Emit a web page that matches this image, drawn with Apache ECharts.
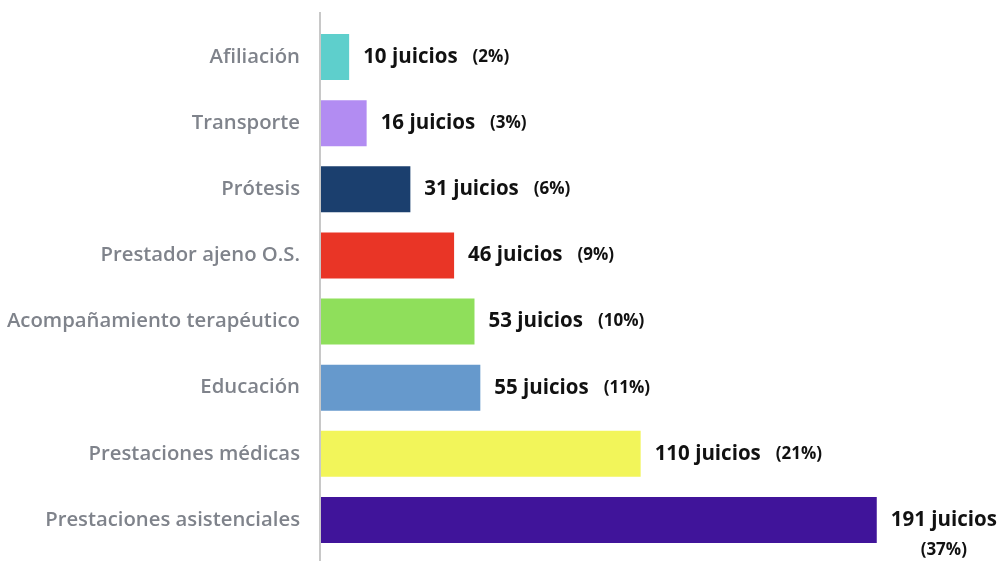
<!DOCTYPE html>
<html>
<head>
<meta charset="utf-8">
<script src="https://cdn.jsdelivr.net/npm/echarts@6/dist/echarts.min.js"></script>
<style>
html,body{margin:0;padding:0;background:#fff;}
#main{width:1001px;height:561px;}
</style>
</head>
<body>
<div id="main"></div>
<script>
var categories = ["Afiliación","Transporte","Prótesis","Prestador ajeno O.S.","Acompañamiento terapéutico","Educación","Prestaciones médicas","Prestaciones asistenciales"];
var values = [10,16,31,46,53,55,110,191];
var percents = ["2%","3%","6%","9%","10%","11%","21%","37%"];
var colors = ["#5ecfcc","#b28cf2","#1b3f6e","#e93526","#8fdf5b","#6699cc","#f2f55a","#40149a"];

var data = values.map(function(v,i){
  var item = {value: v, itemStyle: {color: colors[i]}};
  if (i === values.length - 1) {
    item.label = {
      formatter: '{a|' + v + ' juicios}\n{c|(' + percents[i] + ')}',
      align: 'center',
      offset: [53, 15]
    };
  }
  return item;
});

var chart = echarts.init(document.getElementById('main'), null, {renderer:'canvas'});
chart.setOption({
  animation: false,
  backgroundColor: '#ffffff',
  grid: {left: 320, top: 24, right: 98, bottom: 8, containLabel: false},
  xAxis: {type: 'value', min: 0, max: 200, show: false},
  yAxis: {
    type: 'category',
    data: categories,
    inverse: true,
    axisLine: {show: false},
    axisTick: {show: false},
    axisLabel: {color: '#7f838b', fontSize: 20.3, fontFamily: 'Open Sans', fontWeight: 600, margin: 20}
  },
  graphic: [{
    type: 'line',
    shape: {x1: 320, y1: 12, x2: 320, y2: 561},
    style: {stroke: '#c8c8c8', lineWidth: 2},
    z: 100
  }],
  series: [{
    type: 'bar',
    data: data,
    barWidth: 46,
    label: {
      show: true,
      position: 'right',
      distance: 14,
      formatter: function(p){
        return '{a|' + p.value + ' juicios}{b|(' + percents[p.dataIndex] + ')}';
      },
      rich: {
        a: {fontFamily: 'Open Sans', fontWeight: 'bold', fontSize: 20.5, color: '#111111', lineHeight: 30},
        b: {fontFamily: 'Open Sans', fontWeight: 'bold', fontSize: 17, color: '#111111', padding: [0,0,0,15]},
        c: {fontFamily: 'Open Sans', fontWeight: 'bold', fontSize: 17, color: '#111111', lineHeight: 30}
      }
    }
  }]
});
</script>
</body>
</html>
